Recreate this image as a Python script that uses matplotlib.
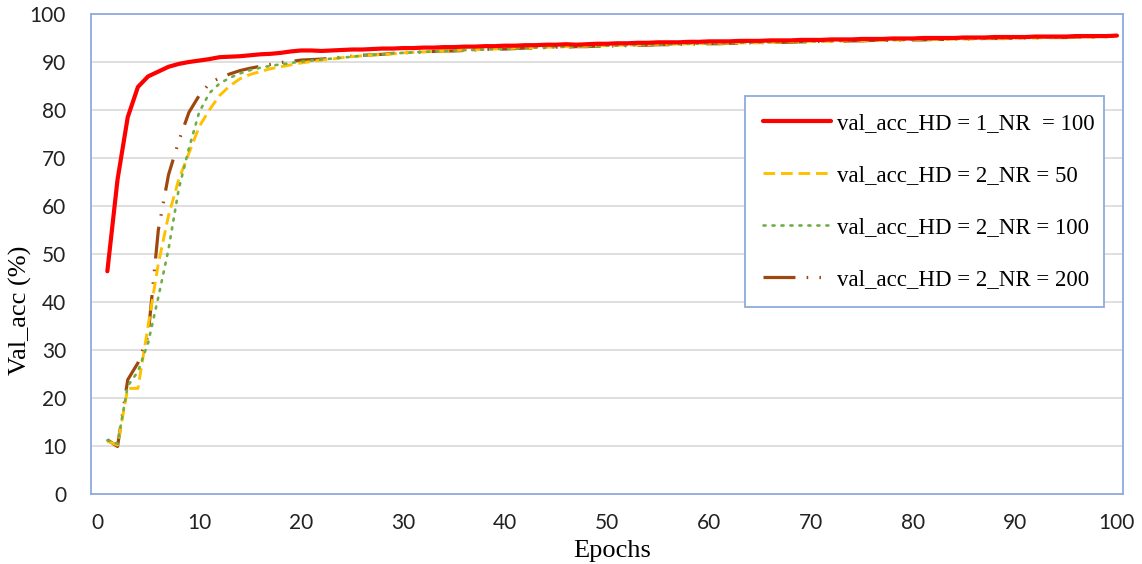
import numpy as np
import matplotlib.pyplot as plt

# Epochs 1..100
epochs = list(range(1, 101))

acc_hd1_nr100 = [
    46.4, 65.5, 78.5, 84.8, 87.0, 88.0, 89.0, 89.6, 90.0, 90.3,
    90.6, 91.0, 91.1, 91.2, 91.4, 91.6, 91.7, 91.9, 92.2, 92.4,
    92.4, 92.3, 92.4, 92.5, 92.6, 92.6, 92.7, 92.8, 92.8, 92.9,
    92.9, 93.0, 93.0, 93.1, 93.1, 93.2, 93.2, 93.3, 93.3, 93.4,
    93.4, 93.5, 93.5, 93.6, 93.6, 93.7, 93.6, 93.7, 93.8, 93.8,
    93.9, 93.9, 94.0, 94.0, 94.1, 94.1, 94.1, 94.2, 94.2, 94.3,
    94.3, 94.3, 94.4, 94.4, 94.4, 94.5, 94.5, 94.5, 94.6, 94.6,
    94.6, 94.7, 94.7, 94.7, 94.8, 94.8, 94.8, 94.9, 94.9, 94.9,
    95.0, 95.0, 95.0, 95.0, 95.1, 95.1, 95.1, 95.2, 95.2, 95.2,
    95.2, 95.3, 95.3, 95.3, 95.3, 95.4, 95.4, 95.4, 95.4, 95.5,
]

acc_hd2_nr50 = [
    11.0, 10.2, 22.0, 22.0, 35.0, 48.0, 58.0, 65.5, 71.0, 76.5,
    80.0, 83.0, 85.0, 86.5, 87.4, 88.0, 88.6, 89.0, 89.4, 89.8,
    90.1, 90.4, 90.6, 90.9, 91.1, 91.3, 91.5, 91.6, 91.7, 91.9,
    92.0, 92.1, 92.2, 92.3, 92.4, 92.5, 92.6, 92.6, 92.7, 92.8,
    92.9, 92.9, 93.0, 93.1, 93.1, 93.2, 93.2, 93.3, 93.4, 93.4,
    93.5, 93.5, 93.6, 93.6, 93.7, 93.7, 93.7, 93.8, 93.8, 93.9,
    93.9, 93.9, 94.0, 94.0, 94.0, 94.1, 94.1, 94.2, 94.2, 94.3,
    94.3, 94.3, 94.4, 94.4, 94.4, 94.5, 94.5, 94.6, 94.6, 94.7,
    94.7, 94.7, 94.7, 94.8, 94.8, 94.8, 94.9, 94.9, 94.9, 95.0,
    95.0, 95.0, 95.1, 95.1, 95.1, 95.2, 95.2, 95.2, 95.3, 95.3,
]

acc_hd2_nr100 = [
    11.2, 10.5, 22.5, 25.5, 31.5, 41.0, 51.0, 63.5, 72.0, 79.5,
    83.5, 85.5, 86.7, 87.6, 88.3, 88.8, 89.2, 89.5, 89.8, 90.1,
    90.3, 90.5, 90.7, 90.9, 91.1, 91.3, 91.5, 91.6, 91.8, 91.9,
    92.0, 92.1, 92.2, 92.3, 92.4, 92.5, 92.5, 92.6, 92.7, 92.8,
    92.9, 92.9, 93.0, 93.0, 93.1, 93.2, 93.2, 93.3, 93.3, 93.4,
    93.4, 93.5, 93.5, 93.6, 93.6, 93.7, 93.7, 93.8, 93.8, 93.9,
    93.9, 94.0, 94.0, 94.0, 94.1, 94.1, 94.2, 94.2, 94.2, 94.3,
    94.3, 94.4, 94.4, 94.4, 94.5, 94.5, 94.5, 94.6, 94.6, 94.7,
    94.7, 94.7, 94.8, 94.8, 94.8, 94.9, 94.9, 94.9, 95.0, 95.0,
    95.0, 95.1, 95.1, 95.1, 95.2, 95.2, 95.2, 95.3, 95.3, 95.3,
]

acc_hd2_nr200 = [
    11.3, 9.9, 23.8, 27.3, 33.0, 55.0, 66.5, 73.5, 79.5, 83.0,
    85.5, 86.7, 87.5, 88.2, 88.7, 89.1, 89.5, 89.9, 90.1, 90.4,
    90.5, 90.6, 90.8, 91.0, 91.2, 91.4, 91.5, 91.6, 91.8, 91.9,
    92.0, 92.1, 92.2, 92.3, 92.3, 92.4, 92.5, 92.6, 92.7, 92.7,
    92.8, 92.9, 92.9, 93.0, 93.1, 93.1, 93.2, 93.2, 93.3, 93.3,
    93.4, 93.4, 93.5, 93.5, 93.6, 93.6, 93.7, 93.7, 93.8, 93.8,
    93.8, 93.9, 93.9, 94.0, 94.0, 94.1, 94.1, 94.1, 94.2, 94.2,
    94.3, 94.3, 94.3, 94.4, 94.4, 94.5, 94.5, 94.5, 94.6, 94.6,
    94.6, 94.7, 94.7, 94.8, 94.8, 94.8, 94.9, 94.9, 94.9, 95.0,
    95.0, 95.0, 95.1, 95.1, 95.1, 95.2, 95.2, 95.2, 95.3, 95.3,
]

labels = [
    'val_acc_HD = 1_NR  = 100',
    'val_acc_HD = 2_NR = 50',
    'val_acc_HD = 2_NR = 100',
    'val_acc_HD = 2_NR = 200',
]

fig = plt.figure(figsize=(11.42, 5.64), dpi=100)
ax = fig.add_axes([0.0797, 0.1241, 0.9037, 0.8511])

ax.plot(epochs, acc_hd1_nr100, color='#FF0000', lw=3.0, solid_capstyle='round', label=labels[0], zorder=5)
ax.plot(epochs, acc_hd2_nr50, color='#FFC000', lw=2.1, dashes=(4, 2), label=labels[1], zorder=3)
ax.plot(epochs, acc_hd2_nr100, color='#70AD47', lw=1.9, dashes=(0.8, 2.6), dash_capstyle='round', label=labels[2], zorder=4)
ax.plot(epochs, acc_hd2_nr200, color='#9E480E', lw=2.3, dashes=(10, 3.5, 0.5, 3.5, 0.5, 3.5), label=labels[3], zorder=2)

ax.set_xlim(-0.6, 100.6)
ax.set_ylim(0, 100)
ax.set_xticks(np.arange(0, 101, 10))
ax.set_yticks(np.arange(0, 101, 10))
ax.yaxis.grid(True, color='#D9D9D9', lw=1.2)
ax.set_axisbelow(True)
ax.tick_params(length=0, labelsize=15)
ax.tick_params(axis='x', pad=14)
ax.tick_params(axis='y', pad=18)
for t in ax.get_xticklabels() + ax.get_yticklabels():
    t.set_fontfamily('Lato')
    t.set_color('#222222')
for s in ax.spines.values():
    s.set_color('#8FAADC')
    s.set_linewidth(1.3)

ax.set_xlabel('Epochs', family='Liberation Serif', fontsize=19)
ax.set_ylabel('Val_acc (%)', family='Liberation Serif', fontsize=19)
ax.xaxis.set_label_coords(0.505, -0.096)
ax.yaxis.set_label_coords(-0.057, 0.383)

leg = ax.legend(loc='upper left', bbox_to_anchor=(0.634, 0.3875, 0.348, 0.442), mode='expand',
                borderaxespad=0, prop={'family': 'Liberation Serif', 'size': 16.5},
                frameon=True, fancybox=False, framealpha=1, handlelength=3.0,
                labelspacing=1.35, borderpad=0.75, handletextpad=0.25)
leg.get_frame().set_edgecolor('#8FAADC')
leg.get_frame().set_linewidth(1.3)
leg.set_zorder(10)

fig.savefig('out.png', dpi=100)
